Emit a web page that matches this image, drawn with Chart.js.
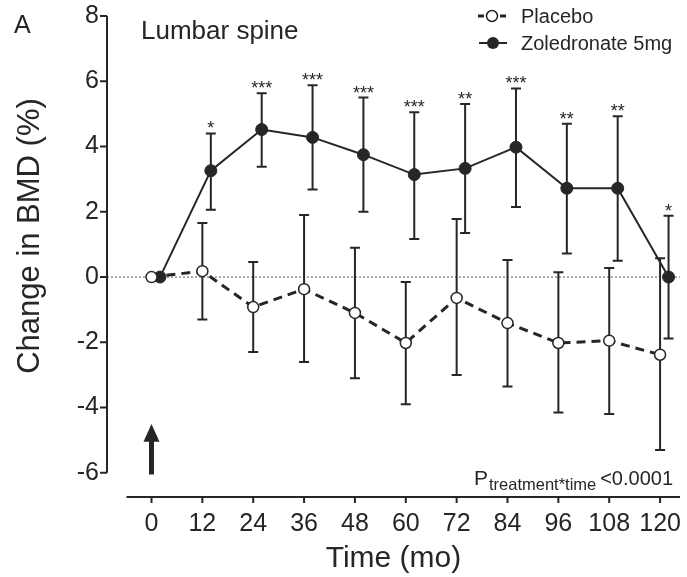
<!DOCTYPE html>
<html>
<head>
<meta charset="utf-8">
<script src="https://cdn.jsdelivr.net/npm/chart.js@4.4.1/dist/chart.umd.min.js"></script>
<style>
    html, body { margin: 0; padding: 0; background: #fff; }
    #wrap { width: 687px; height: 577px; }
</style>
</head>
<body>
<div id="wrap"><canvas id="bmdChart" width="687" height="577"></canvas></div>
<script>
// months since first infusion
var months = [0, 12, 24, 36, 48, 60, 72, 84, 96, 108, 120];
var yTickValues = [-6, -4, -2, 0, 2, 4, 6, 8];

// placebo group: mean change and error bar ends
var placeboMean  = [0, 0.18, -0.92, -0.37, -1.10, -2.02, -0.64, -1.41, -2.02, -1.95, -2.38];
var placeboUpper = [0, 1.66,  0.46,  1.90,  0.90, -0.15,  1.78,  0.52,  0.15,  0.28,  0.58];
var placeboLower = [0, -1.30, -2.30, -2.60, -3.10, -3.90, -3.00, -3.35, -4.15, -4.20, -5.30];

// zoledronate group
var zolMean  = [0, 3.26, 4.52, 4.28, 3.75, 3.14, 3.33, 3.98, 2.72, 2.72, 0.00];
var zolUpper = [0, 4.40, 5.63, 5.88, 5.50, 5.05, 5.30, 5.78, 4.70, 4.93, 1.88];
var zolLower = [0, 2.06, 3.38, 2.68, 2.00, 1.17, 1.35, 2.15, 0.72, 0.50, -1.88];
var zolStars = ['', '*', '***', '***', '***', '***', '**', '***', '**', '**', '*'];

var ink = '#262626';
var fontFamily = '"Liberation Sans", Arial, Helvetica, sans-serif';
var zolShift = 2; // zoledronate points nudged right so bars don't overlap

function toPoints(xs, ys, shift) {
    var pts = [];
    for (let i = 0; i < xs.length; i++) {
        pts.push({ x: xs[i] + shift, y: ys[i] });
    }
    return pts;
}

var errorBars = {
    id: 'errorBars',
    beforeDatasetsDraw(chart) {
        var ctx = chart.ctx;
        var xs = chart.scales.x, ys = chart.scales.y;
        var area = chart.chartArea;

        // dotted zero line
        ctx.save();
        ctx.strokeStyle = '#555';
        ctx.lineWidth = 1;
        ctx.setLineDash([2, 2]);
        ctx.beginPath();
        ctx.moveTo(area.left, ys.getPixelForValue(0));
        ctx.lineTo(area.right, ys.getPixelForValue(0));
        ctx.stroke();
        ctx.restore();

        ctx.save();
        ctx.strokeStyle = ink;
        ctx.lineWidth = 2;
        chart.data.datasets.forEach(function(ds) {
            for (let i = 0; i < ds.data.length; i++) {
                if (ds.upper[i] === ds.lower[i]) continue;
                var px = xs.getPixelForValue(ds.data[i].x);
                var top = ys.getPixelForValue(ds.upper[i]);
                var bot = ys.getPixelForValue(ds.lower[i]);
                ctx.beginPath();
                ctx.moveTo(px, top); ctx.lineTo(px, bot);
                ctx.moveTo(px - 5, top); ctx.lineTo(px + 5, top);
                ctx.moveTo(px - 5, bot); ctx.lineTo(px + 5, bot);
                ctx.stroke();
            }
        });
        ctx.restore();
    },
    afterDatasetsDraw(chart) {
        var ctx = chart.ctx;
        var xs = chart.scales.x, ys = chart.scales.y;
        var area = chart.chartArea;

        // significance marks over the zoledronate bars
        ctx.save();
        ctx.fillStyle = ink;
        ctx.font = '18px ' + fontFamily;
        ctx.textAlign = 'center';
        ctx.textBaseline = 'alphabetic';
        for (let i = 0; i < zolStars.length; i++) {
            if (!zolStars[i]) continue;
            var px = xs.getPixelForValue(months[i] + zolShift);
            ctx.fillText(zolStars[i], px, ys.getPixelForValue(zolUpper[i]) + 1);
        }
        ctx.restore();

        // axis lines, the x axis sits apart below the plot
        ctx.save();
        ctx.strokeStyle = ink;
        ctx.lineWidth = 2;
        ctx.beginPath();
        ctx.moveTo(area.left, ys.getPixelForValue(8));
        ctx.lineTo(area.left, ys.getPixelForValue(-6));
        yTickValues.forEach(function(v) {
            var py = ys.getPixelForValue(v);
            ctx.moveTo(area.left - 7, py); ctx.lineTo(area.left, py);
        });
        ctx.moveTo(xs.getPixelForValue(-5.9), area.bottom);
        ctx.lineTo(area.right, area.bottom);
        months.forEach(function(m) {
            var px = xs.getPixelForValue(m);
            ctx.moveTo(px, area.bottom); ctx.lineTo(px, area.bottom + 6);
        });
        ctx.stroke();

        // arrow marking the infusion at baseline
        var ax = xs.getPixelForValue(0);
        var tip = ys.getPixelForValue(-4.5);
        var base = ys.getPixelForValue(-5.05);
        ctx.fillStyle = ink;
        ctx.beginPath();
        ctx.moveTo(ax, tip);
        ctx.lineTo(ax - 8, base);
        ctx.lineTo(ax + 8, base);
        ctx.closePath();
        ctx.fill();
        ctx.lineWidth = 5;
        ctx.beginPath();
        ctx.moveTo(ax, base - 1);
        ctx.lineTo(ax, ys.getPixelForValue(-6.05));
        ctx.stroke();
        ctx.restore();

        // legend
        ctx.save();
        ctx.strokeStyle = ink;
        ctx.fillStyle = ink;
        ctx.lineWidth = 3;
        ctx.setLineDash([6, 5]);
        ctx.beginPath();
        ctx.moveTo(478, 16); ctx.lineTo(507, 16);
        ctx.stroke();
        ctx.setLineDash([]);
        ctx.lineWidth = 1.5;
        ctx.fillStyle = '#fff';
        ctx.beginPath();
        ctx.arc(492, 16, 5.5, 0, Math.PI * 2);
        ctx.fill(); ctx.stroke();
        ctx.lineWidth = 2;
        ctx.beginPath();
        ctx.moveTo(479, 43); ctx.lineTo(507, 43);
        ctx.stroke();
        ctx.fillStyle = ink;
        ctx.beginPath();
        ctx.arc(493, 43, 6, 0, Math.PI * 2);
        ctx.fill();

        ctx.font = '20px ' + fontFamily;
        ctx.textAlign = 'left';
        ctx.fillText('Placebo', 521, 23);
        ctx.fillText('Zoledronate 5mg', 521, 50);

        // panel letter, site and interaction p value
        ctx.font = '25px ' + fontFamily;
        ctx.fillText('A', 14, 33);
        ctx.font = '26px ' + fontFamily;
        ctx.fillText('Lumbar spine', 141, 39);

        ctx.font = '21px ' + fontFamily;
        ctx.fillText('P', 474, 485);
        ctx.font = '16.5px ' + fontFamily;
        ctx.fillText('treatment*time', 489, 490);
        ctx.font = '20px ' + fontFamily;
        ctx.textAlign = 'right';
        ctx.fillText('<0.0001', 673, 485);

        // y axis title
        ctx.font = '31px ' + fontFamily;
        ctx.textAlign = 'center';
        ctx.textBaseline = 'middle';
        ctx.translate(30, 236);
        ctx.rotate(-Math.PI / 2);
        ctx.fillText('Change in BMD (%)', 0, 0);
        ctx.restore();
    }
};

var ctx = document.getElementById('bmdChart').getContext('2d');
var bmdChart = new Chart(ctx, {
    type: 'line',
    data: {
        datasets: [{
            label: 'Placebo',
            data: toPoints(months, placeboMean, 0),
            upper: placeboUpper,
            lower: placeboLower,
            borderColor: ink,
            borderWidth: 3,
            borderDash: [9, 6],
            pointRadius: 5.5,
            pointBackgroundColor: '#fff',
            pointBorderColor: ink,
            pointBorderWidth: 1.5,
            tension: 0,
        }, {
            label: 'Zoledronate 5mg',
            data: toPoints(months, zolMean, zolShift),
            upper: zolUpper,
            lower: zolLower,
            borderColor: ink,
            borderWidth: 2,
            pointRadius: 6,
            pointBackgroundColor: ink,
            pointBorderColor: ink,
            pointBorderWidth: 1,
            tension: 0,
        }]
    },
    options: {
        responsive: false,
        animation: false,
        layout: { padding: { top: 16, right: 4, left: 0, bottom: 0 } },
        plugins: {
            legend: { display: false },
            tooltip: { enabled: false },
        },
        scales: {
            x: {
                type: 'linear',
                min: -10.5,
                max: 124.7,
                afterBuildTicks: function(scale) {
                    scale.ticks = months.map(function(m) { return { value: m }; });
                },
                afterFit: function(scale) {
                    scale.height = 80;
                    scale.paddingLeft = 0;
                    scale.paddingRight = 0;
                },
                grid: { display: false, drawTicks: false },
                border: { display: false },
                ticks: {
                    padding: 12,
                    maxRotation: 0,
                    autoSkip: false,
                    color: ink,
                    font: { family: fontFamily, size: 25 },
                },
                title: {
                    display: true,
                    text: 'Time (mo)',
                    color: ink,
                    font: { family: fontFamily, size: 30 },
                    padding: { top: 0, bottom: 0 },
                },
            },
            y: {
                min: -6.74,
                max: 8,
                afterBuildTicks: function(scale) {
                    scale.ticks = yTickValues.map(function(v) { return { value: v }; });
                },
                afterFit: function(scale) {
                    scale.width = 107;
                    scale.paddingTop = 0;
                    scale.paddingBottom = 0;
                },
                grid: { display: false, drawTicks: false },
                border: { display: false },
                ticks: {
                    padding: 8,
                    color: ink,
                    font: { family: fontFamily, size: 25 },
                },
            },
        },
    },
    plugins: [errorBars],
});
</script>
</body>
</html>
